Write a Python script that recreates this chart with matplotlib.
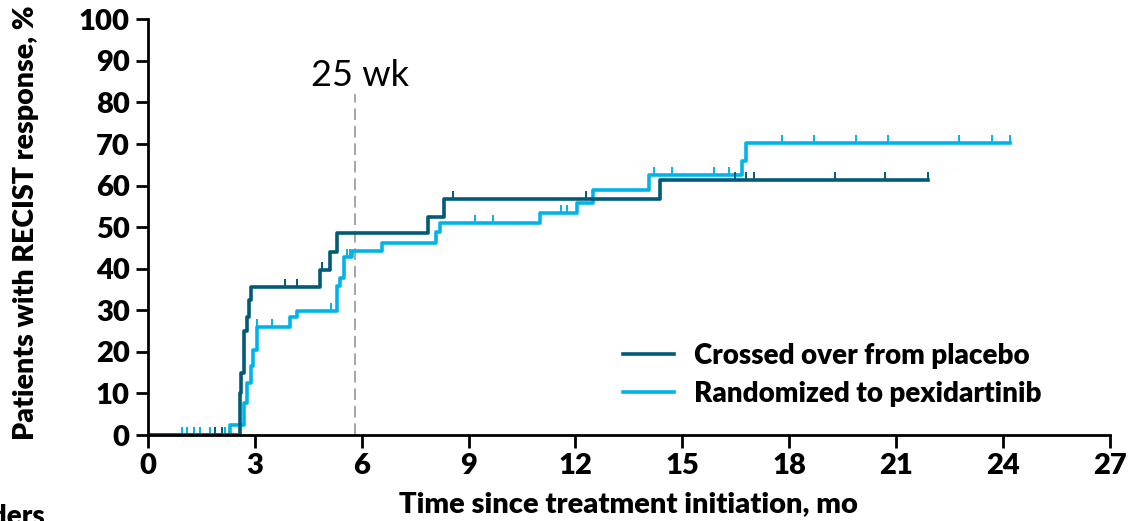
import numpy as np
import matplotlib.pyplot as plt

plt.rcParams['font.family'] = ['Lato', 'DejaVu Sans']

# step curves (time in months, cumulative response %)
placebo_t = [0, 2.58, 2.62, 2.7, 2.78, 2.83, 2.9, 4.83, 5.1, 5.3, 7.87, 8.3, 14.37, 21.9]
placebo_v = [0, 10, 15, 25, 28.5, 32.5, 35.7, 39.7, 44.1, 48.5, 52.4, 56.7, 61.4, 61.4]
placebo_cens = [1.88, 2.07, 3.85, 4.18, 4.9, 8.55, 12.3, 16.47, 16.8, 17.0, 19.3, 20.7, 21.9]

pexi_t = [0, 2.3, 2.7, 2.78, 2.89, 2.95, 3.06, 3.98, 4.18, 5.3, 5.4, 5.5, 5.72, 6.57,
          8.1, 8.2, 11.0, 12.04, 12.5, 14.06, 16.67, 16.8, 24.2]
pexi_v = [0, 2.4, 7.7, 12.5, 16.5, 20.4, 26, 28.4, 29.8, 35.8, 37.7, 42.8, 44.2, 46.1,
          48.8, 51, 53.3, 55.7, 59, 62.5, 66, 70.2, 70.2]
pexi_cens = [0.95, 1.1, 1.3, 1.46, 1.74, 2.16, 3.06, 3.48, 5.14, 5.6, 5.67, 9.18, 9.69,
             11.6, 11.75, 14.2, 14.7, 15.9, 16.3, 17.8, 18.7, 19.87, 20.77, 22.76, 23.7, 24.2]

dark = '#005A78'
light = '#00B4EA'


def step_value(times, values, t):
    idx = np.searchsorted(times, t, side='right') - 1
    return np.array(values)[idx]


fig = plt.figure(figsize=(11.29, 5.21), dpi=100)
ax = fig.add_axes([0.131, 0.165, 0.852, 0.798])

ax.step(pexi_t, pexi_v, where='post', color=light, lw=2.6, label='Randomized to pexidartinib')
ax.plot(pexi_cens, step_value(pexi_t, pexi_v, pexi_cens), ls='none', marker=2,
        ms=6, mew=1.4, color=light)
ax.step(placebo_t, placebo_v, where='post', color=dark, lw=2.6, label='Crossed over from placebo')
ax.plot(placebo_cens, step_value(placebo_t, placebo_v, placebo_cens), ls='none', marker=2,
        ms=6, mew=1.4, color=dark)

# 25 week marker
ax.plot([5.8, 5.8], [0, 82], color='#A6A6A6', lw=1.4, ls=(0, (6, 3)), zorder=1)
ax.text(5.96, 86.5, '25 wk', ha='center', va='center', fontsize=26)

ax.set_xlim(0, 27)
ax.set_ylim(0, 100)
ax.set_xticks(np.arange(0, 28, 3))
ax.set_yticks(np.arange(0, 101, 10))
ax.tick_params(labelsize=21, width=2, length=9, direction='out', pad=4)
for lab in ax.get_xticklabels() + ax.get_yticklabels():
    lab.set_fontweight('heavy')
for s in ['top', 'right']:
    ax.spines[s].set_visible(False)
for s in ['left', 'bottom']:
    ax.spines[s].set_linewidth(2)

ax.set_xlabel('Time since treatment initiation, mo', fontsize=21, fontweight='heavy')
ax.set_ylabel('Patients with RECIST response, %', fontsize=20.5, fontweight='heavy')
ax.xaxis.set_label_coords(0.5, -0.135)
ax.yaxis.set_label_coords(-0.113, 0.51)

h, l = ax.get_legend_handles_labels()
ax.legend(h[::-1], l[::-1], loc='center left', bbox_to_anchor=(0.494, 0.145), frameon=False,
          prop={'size': 20, 'weight': 'heavy'}, handlelength=1.85, handletextpad=0.7,
          labelspacing=0.42, borderpad=0, borderaxespad=0)

fig.text(45 / 1129, 0.032, 'Responders', ha='right', va='top', fontsize=20, fontweight='heavy')

fig.savefig('out.png', dpi=100)
